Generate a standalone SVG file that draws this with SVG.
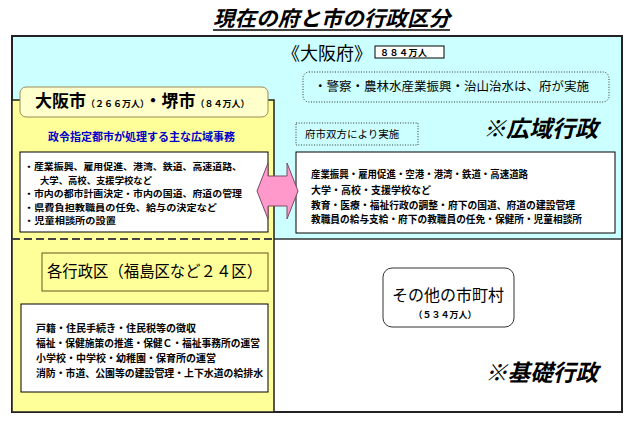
<svg xmlns="http://www.w3.org/2000/svg" width="635" height="428" viewBox="0 0 635 428">
<style>
text{font-family:"Noto Sans CJK JP","Noto Sans",sans-serif;fill:#000}
.b{font-weight:700}
.item{font-size:10px;font-weight:700}
.sm{font-size:9px;font-weight:700}
.wbox{fill:#fff;stroke:#000;stroke-width:1}
.dot{fill:none;stroke:#333;stroke-width:1;stroke-dasharray:1 1.6}
.big{font-size:23px;font-weight:700;font-style:italic}
</style>
<rect x="0" y="0" width="635" height="428" fill="#fff"/>
<g id="title">
<text x="213" y="26" font-size="21" class="b" font-style="italic" textLength="237" lengthAdjust="spacingAndGlyphs">現在の府と市の行政区分</text>
<line x1="213" y1="30" x2="450" y2="30" stroke="#000" stroke-width="1.5"/>
</g>
<g id="osaka-fu">
<rect x="12" y="36" width="610" height="203" fill="#ccffff"/>
<rect x="274" y="239" width="348" height="173" fill="#fff"/>
<line x1="274" y1="239" x2="622" y2="239" stroke="#333" stroke-width="1.5"/>
<rect x="12" y="36" width="610" height="376" fill="none" stroke="#222" stroke-width="2"/>
<text x="282" y="60" font-size="18">《大阪府》</text>
<rect x="375" y="46" width="69" height="12" fill="#fff" stroke="#000" stroke-width="1"/>
<text x="380" y="56" font-size="9" class="b" letter-spacing="0.5">８８４万人</text>
</g>
<g id="fu-only">
<rect x="303" y="72" width="306" height="30" rx="6" class="dot"/>
<text x="314" y="91" font-size="12.5">・警察・農林水産業振興・治山治水は、府が実施</text>
</g>
<g id="shi-fu-both">
<rect x="296" y="123" width="122" height="22" class="dot"/>
<text x="305" y="138" font-size="10.5">府市双方により実施</text>
</g>
<g id="kouiki-label">
<text x="483" y="137" class="big" textLength="115" lengthAdjust="spacingAndGlyphs">※広域行政</text>
</g>
<g id="seirei-city">
<rect x="12" y="100" width="262" height="312" fill="#ffff99" stroke="#222" stroke-width="1.5"/>
<line x1="12" y1="239" x2="274" y2="239" stroke="#444" stroke-width="2" stroke-dasharray="8 4"/>
<rect x="20" y="87" width="248" height="30" rx="6" fill="#ffffcc" stroke="#9a8a5a" stroke-width="1"/>
<text x="35" y="107" class="b"><tspan font-size="17">大阪市</tspan><tspan font-size="9">（２６６万人）</tspan><tspan font-size="17">・堺市</tspan><tspan font-size="9">（８４万人）</tspan></text>
<text x="141.5" y="141" font-size="11" class="b" text-anchor="middle" style="fill:#0000cc">政令指定都市が処理する主な広域事務</text>
</g>
<g id="seirei-tasks">
<rect x="20" y="152" width="248" height="80" class="wbox"/>
<text class="sm" x="24" y="170" textLength="218" lengthAdjust="spacingAndGlyphs">・産業振興、雇用促進、港湾、鉄道、高速道路、</text>
<text class="sm" x="40" y="183.5" textLength="112" lengthAdjust="spacingAndGlyphs">大学、高校、支援学校など</text>
<text class="sm" x="24" y="197" textLength="218" lengthAdjust="spacingAndGlyphs">・市内の都市計画決定・市内の国道、府道の管理</text>
<text class="sm" x="24" y="210.5" textLength="193" lengthAdjust="spacingAndGlyphs">・県費負担教職員の任免、給与の決定など</text>
<text class="sm" x="24" y="224" textLength="92" lengthAdjust="spacingAndGlyphs">・児童相談所の設置</text>
</g>
<g id="fu-tasks">
<rect x="296" y="152" width="319" height="81" class="wbox"/>
<text class="item" x="311" y="178" textLength="217" lengthAdjust="spacingAndGlyphs">産業振興・雇用促進・空港・港湾・鉄道・高速道路</text>
<text class="item" x="311" y="194">大学・高校・支援学校など</text>
<text class="item" x="311" y="209" textLength="264" lengthAdjust="spacingAndGlyphs">教育・医療・福祉行政の調整・府下の国道、府道の建設管理</text>
<text class="item" x="311" y="223" textLength="271" lengthAdjust="spacingAndGlyphs">教職員の給与支給・府下の教職員の任免・保健所・児童相談所</text>
</g>
<g id="connectors">
<polygon points="257,191 268,163 268,176 287,176 287,163 298,191 287,219 287,206 268,206 268,219" fill="#ff99cc" stroke="#7a4a60" stroke-width="1"/>
</g>
<g id="wards">
<rect x="42" y="253" width="226" height="38" fill="#ffff99" stroke="#665522" stroke-width="1"/>
<text x="47" y="277" font-size="16" textLength="215" lengthAdjust="spacingAndGlyphs">各行政区（福島区など２４区）</text>
</g>
<g id="ward-tasks">
<rect x="21" y="304" width="247" height="88" class="wbox"/>
<text class="item" x="36" y="332">戸籍・住民手続き・住民税等の徴収</text>
<text class="item" x="36" y="347" textLength="224" lengthAdjust="spacingAndGlyphs">福祉・保健施策の推進・保健Ｃ・福祉事務所の運営</text>
<text class="item" x="36" y="362">小学校・中学校・幼稚園・保育所の運営</text>
<text class="item" x="36" y="377" textLength="227" lengthAdjust="spacingAndGlyphs">消防・市道、公園等の建設管理・上下水道の給排水</text>
</g>
<g id="other-municipalities">
<rect x="383" y="268" width="131" height="59" rx="9" fill="#fff" stroke="#333" stroke-width="1"/>
<text x="448" y="301" font-size="16" text-anchor="middle">その他の市町村</text>
<text x="445" y="318" font-size="9" class="b" text-anchor="middle">（５３４万人）</text>
</g>
<g id="kiso-label">
<text x="485" y="381" class="big" textLength="113" lengthAdjust="spacingAndGlyphs">※基礎行政</text>
</g>
</svg>
